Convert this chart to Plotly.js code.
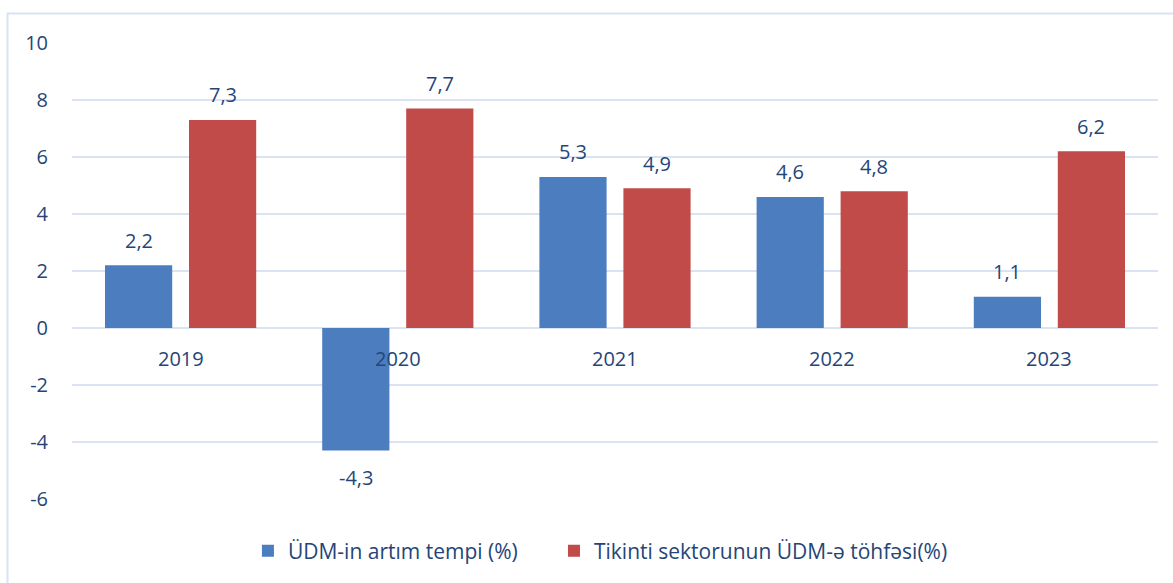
<!DOCTYPE html>
<html><head><meta charset="utf-8">
<script src="https://cdn.plot.ly/plotly-3.0.1.min.js"></script>
<style>body{margin:0;background:#fff}#c{width:1173px;height:583px}</style>
</head><body><div id="c"></div>
<script>
const years = ['2019','2020','2021','2022','2023'];
const gdpGrowth = [2.2, -4.3, 5.3, 4.6, 1.1];
const constructionShare = [7.3, 7.7, 4.9, 4.8, 6.2];
const seriesNames = ['ÜDM-in artım tempi (%)', 'Tikinti sektorunun ÜDM-ə töhfəsi(%)'];
const yTicks = [-6, -4, -2, 0, 2, 4, 6, 8, 10];

const txt = '#254577';
const fontFam = 'Open Sans, Noto Sans, sans-serif';
const fs = 20;
const yMin = -6, yMax = 10;

const fmt = v => v.toFixed(1).replace('.', ',');
const annotations = [];
[[gdpGrowth, -42], [constructionShare, 42]].forEach(([arr, xs]) => {
  arr.forEach((v, i) => {
    annotations.push({x: i, y: v, xref: 'x', yref: 'y', text: fmt(v), showarrow: false,
      xshift: xs, yshift: v >= 0 ? 25 : -27, font: {size: fs, color: txt, family: fontFam}});
  });
});
years.forEach((yr, i) => {
  annotations.push({x: i, y: 0, xref: 'x', yref: 'y', text: yr, showarrow: false,
    yshift: -30, font: {size: fs, color: txt, family: fontFam}});
});

const traces = [
  {type: 'bar', name: seriesNames[0], x: years, y: gdpGrowth, marker: {color: '#4C7DBF'}, hoverinfo: 'none', legend: 'legend'},
  {type: 'bar', name: seriesNames[1], x: years, y: constructionShare, marker: {color: '#C04B48'}, hoverinfo: 'none', legend: 'legend2'}
];
const legFont = {size: 21, color: txt, family: fontFam};
const layout = {
  width: 1173, height: 583,
  margin: {l: 72, r: 15, t: 43, b: 84},
  paper_bgcolor: '#fff', plot_bgcolor: '#fff',
  barmode: 'group', bargap: 0.2265, bargroupgap: 0.2,
  showlegend: true,
  legend: {orientation: 'h', x: 0.162, xanchor: 'left', y: -0.114, yanchor: 'middle', font: legFont},
  legend2: {orientation: 'h', x: 0.4438, xanchor: 'left', y: -0.114, yanchor: 'middle', font: legFont},
  xaxis: {type: 'category', range: [-0.5, 4.5], showticklabels: false,
    showgrid: false, showline: false, zeroline: false, ticks: ''},
  yaxis: {range: [yMin, yMax], tickvals: yTicks, ticktext: yTicks.map(String),
    showgrid: true, gridcolor: '#D9E3F2', gridwidth: 2,
    zeroline: true, zerolinecolor: '#D9E3F2', zerolinewidth: 2, showline: false, ticks: '',
    tickfont: {size: fs, color: txt, family: fontFam}, ticklabelstandoff: 23},
  annotations: annotations,
  shapes: [{type: 'rect', xref: 'paper', yref: 'paper', x0: -0.0594, x1: 1.05, y0: -0.3, y1: 1.0647,
    line: {color: '#D9E3F2', width: 2}, fillcolor: 'rgba(0,0,0,0)', layer: 'below'}]
};
Plotly.newPlot('c', traces, layout, {staticPlot: true});
</script></body></html>
